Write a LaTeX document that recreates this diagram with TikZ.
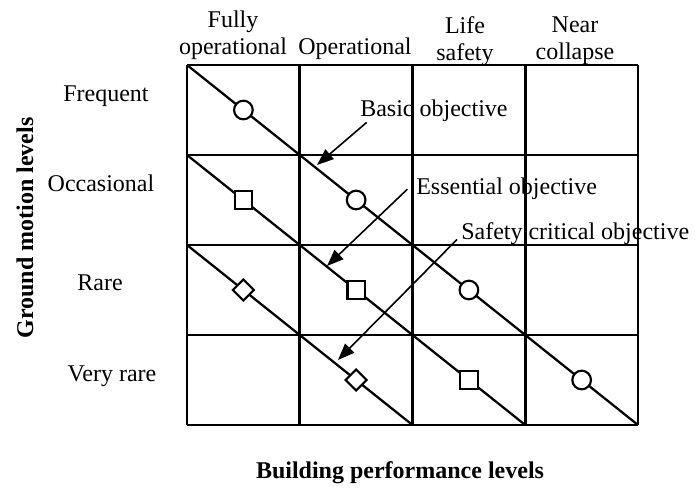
\documentclass[tikz,border=0pt]{standalone}
\usepackage{fontspec}
\setmainfont{Liberation Serif}
\usetikzlibrary{arrows.meta}
\usetikzlibrary{shapes.geometric}

\begin{document}
\begin{tikzpicture}[x=0.75pt, y=-0.75pt, font=\fontsize{18}{20.5}\selectfont,
        grid/.style={line width=1.9pt},
        diag/.style={line width=1.7pt},
        circ/.style={draw, circle, fill=white, line width=1.6pt, inner sep=0pt, minimum size=14pt},
        sq/.style={draw, rectangle, fill=white, line width=1.6pt, inner sep=0pt, minimum size=13pt},
        dia/.style={draw, diamond, fill=white, line width=1.6pt, inner sep=0pt, minimum size=16.5pt},
        lbl/.style={anchor=base, align=center, inner sep=0pt},
        obj/.style={anchor=base west, inner sep=0pt},
        pointer/.style={-{Triangle[length=12.5pt,width=9.5pt]}, line width=1.2pt}]
        \useasboundingbox (0,0) rectangle (697,488);
        % performance matrix
        \foreach \c in {0,...,4}
            \draw[grid] (187+112.75*\c,65) -- (187+112.75*\c,425);
        \foreach \r in {0,...,4}
            \draw[grid] (187,65+90*\r) -- (638,65+90*\r);
        \draw[diag] (187,65) -- (638,425);
        \draw[diag] (187,155) -- (525.25,425);
        \draw[diag] (187,245) -- (412.5,425);
        \foreach \k in {0,...,3}
            \node[circ] (basic\k) at (243.4+112.75*\k,110+90*\k) {};
        \foreach \k in {0,...,2}
            \node[sq] (ess\k) at (243.4+112.75*\k,200+90*\k) {};
        \foreach \k in {0,1}
            \node[dia] (safe\k) at (243.4+112.75*\k,290+90*\k) {};
        % column and row headings (base = last line)
        \node[lbl] (fullyop) at (233,55) {Fully\\operational};
        \node[lbl] (oper) at (355,55) {Operational};
        \node[lbl] (lifesafe) at (465,61) {Life\\safety};
        \node[lbl] (nearcol) at (575,60) {Near\\collapse};
        \node[lbl] (freq) at (106,102) {Frequent};
        \node[lbl] (occ) at (101,192) {Occasional};
        \node[lbl] (rare) at (100,291) {Rare};
        \node[lbl] (vrare) at (112,382) {Very rare};
        \node[rotate=90, font=\fontsize{18}{20.5}\selectfont\bfseries] (gml) at (25,228) {Ground motion levels};
        \node[font=\fontsize{18}{20.5}\selectfont\bfseries] (bpl) at (400,473) {Building performance levels};
        % objectives
        \node[obj] (basic) at (360,117) {Basic objective};
        \node[obj] (essential) at (416,195) {Essential objective};
        \node[obj] (safety) at (461,240) {Safety critical objective};
        \coordinate (basic tip) at (317,165);
        \coordinate (essential tip) at (327,266);
        \coordinate (safety tip) at (338,360);
        \draw[pointer] ([xshift=5pt]basic.south west) -- (basic tip);
        \draw[pointer] ([xshift=-6.5pt]essential.west) -- (essential tip);
        \draw[pointer] ([xshift=-3pt,yshift=-4pt]safety.west) -- (safety tip);
    \end{tikzpicture}
\end{document}
